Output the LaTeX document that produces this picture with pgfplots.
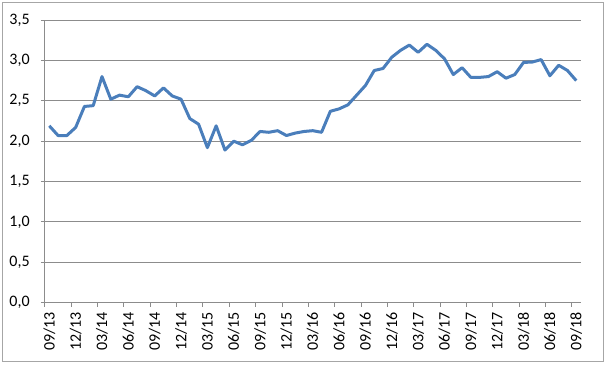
\documentclass[border=0pt]{standalone}
\usepackage{pgfplots}
\pgfplotsset{compat=1.18}
\usepackage{fontspec}
\setmainfont{Carlito}
\definecolor{line}{HTML}{4A7EBB}
\definecolor{gridc}{HTML}{8C8C8C}
\definecolor{framec}{HTML}{A6A6A6}
\begin{document}
\begin{tikzpicture}
\path[use as bounding box] (-36.975pt,-46.725pt) rectangle (419.025pt,227.025pt);
\draw[framec, line width=0.75pt] (-35.25pt,-44.25pt) rectangle (416.0pt,225.15pt);
\begin{axis}[
  at={(0,0)}, anchor=origin,
  scale only axis,
  width=401.8pt, height=212pt,
  xmin=-0.5, xmax=60.5,
  ymin=0, ymax=3.5,
  axis lines*=left,
  axis line style={gridc, line width=0.75pt, -},
  ytick={0,0.5,...,3.5},
  ymajorgrids,
  grid style={gridc, line width=0.75pt},
  xtick={0,3,...,60},
  xticklabels={09/13,12/13,03/14,06/14,09/14,12/14,03/15,06/15,09/15,12/15,03/16,06/16,09/16,12/16,03/17,06/17,09/17,12/17,03/18,06/18,09/18},
  minor xtick={-0.5,2.5,...,59.5},
  major x tick style={draw=none},
  minor x tick style={gridc, line width=0.75pt},
  major y tick style={gridc, line width=0.75pt},
  tick align=outside,
  major tick length=3pt,
  minor tick length=3pt,
  font=\fontsize{12pt}{14pt}\selectfont,
  /pgf/number format/assume math mode=true,
  yticklabel style={/pgf/number format/.cd, fixed, fixed zerofill, precision=1, use comma, /tikz/.cd, anchor=east, inner sep=0pt, xshift=-8.25pt},
  xticklabel shift=4pt,
  xticklabel style={rotate=90, anchor=east, inner sep=0pt},
  clip=false,
]
\addplot[line, line width=2.25pt, line join=round, mark=none] coordinates {
(0,2.19) (1,2.07) (2,2.07) (3,2.17) (4,2.43) (5,2.44) (6,2.80) (7,2.52) (8,2.57) (9,2.55)
(10,2.675) (11,2.625) (12,2.56) (13,2.66) (14,2.56) (15,2.52) (16,2.28) (17,2.21) (18,1.92) (19,2.19)
(20,1.89) (21,2.00) (22,1.955) (23,2.01) (24,2.12) (25,2.11) (26,2.13) (27,2.07) (28,2.10) (29,2.12)
(30,2.13) (31,2.11) (32,2.37) (33,2.40) (34,2.45) (35,2.57) (36,2.69) (37,2.875) (38,2.90) (39,3.04)
(40,3.125) (41,3.19) (42,3.10) (43,3.20) (44,3.125) (45,3.02) (46,2.825) (47,2.91) (48,2.79) (49,2.79)
(50,2.80) (51,2.86) (52,2.78) (53,2.825) (54,2.975) (55,2.98) (56,3.01) (57,2.81) (58,2.94) (59,2.875)
(60,2.75)
};
\end{axis}
\end{tikzpicture}
\end{document}
